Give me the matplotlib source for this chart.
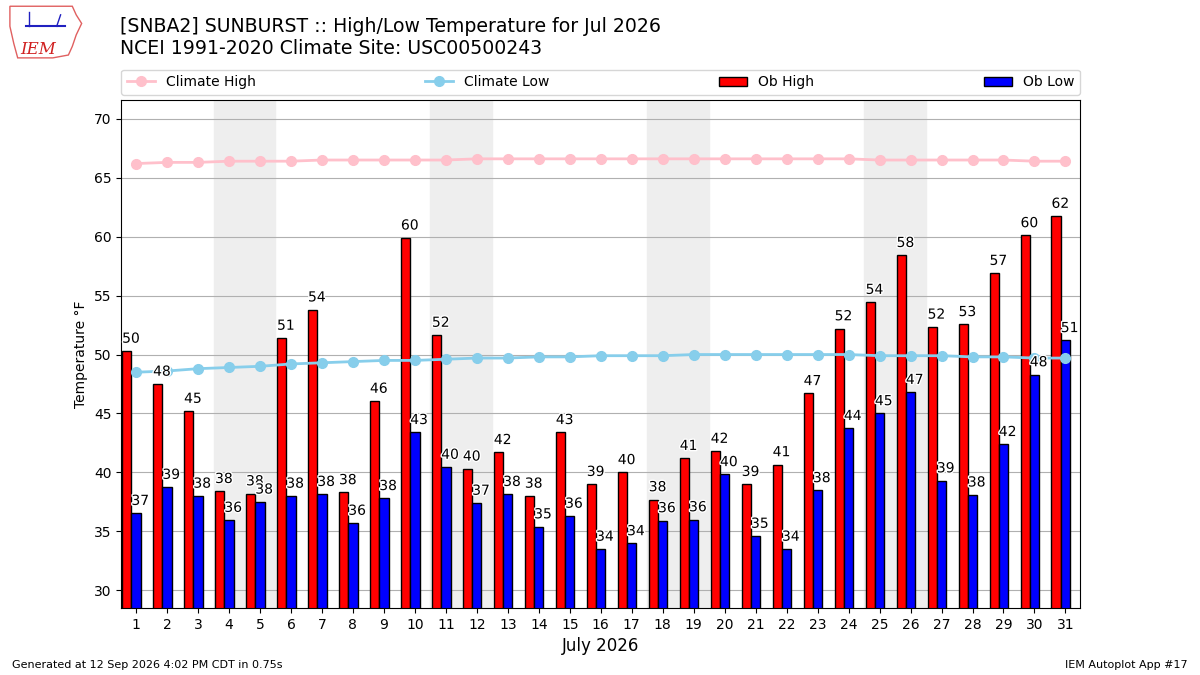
import numpy as np
import matplotlib
matplotlib.use("Agg")
import matplotlib.pyplot as plt
import matplotlib.patheffects as pe
from matplotlib.patches import Polygon

days = np.arange(1, 32)
ob_high = [50.3, 47.5, 45.2, 38.4, 38.2, 51.4, 53.8, 38.3, 46.05, 59.9,
           51.65, 40.3, 41.7, 38.0, 43.4, 39.0, 40.0, 37.7, 41.2, 41.8,
           39.0, 40.67, 46.7, 52.2, 54.44, 58.42, 52.34, 52.56, 56.9, 60.1,
           61.74]
ob_low = [36.54, 38.75, 38.0, 35.95, 37.5, 38.0, 38.15, 35.7, 37.8, 43.4,
          40.45, 37.4, 38.15, 35.4, 36.3, 33.5, 33.97, 35.92, 36.0, 39.83,
          34.6, 33.5, 38.47, 43.74, 45.0, 46.8, 39.3, 38.1, 42.38, 48.3,
          51.2]
clim_high = [66.2, 66.3, 66.3, 66.4, 66.4, 66.4, 66.5, 66.5, 66.5, 66.5,
             66.5, 66.6, 66.6, 66.6, 66.6, 66.6, 66.6, 66.6, 66.6, 66.6,
             66.6, 66.6, 66.6, 66.6, 66.5, 66.5, 66.5, 66.5, 66.5, 66.4,
             66.4]
clim_low = [48.5, 48.6, 48.8, 48.9, 49.0, 49.2, 49.3, 49.4, 49.5, 49.5,
            49.6, 49.7, 49.7, 49.8, 49.8, 49.9, 49.9, 49.9, 50.0, 50.0,
            50.0, 50.0, 50.0, 50.0, 49.9, 49.9, 49.9, 49.8, 49.8, 49.7,
            49.7]
weekends = [4, 11, 18, 25]

fig = plt.figure(figsize=(12, 6.75), dpi=100)
ax = fig.add_axes([0.101, 0.0993, 0.799, 0.7527])

for d in weekends:
    ax.axvspan(d - 0.5, d + 1.5, color="#eeeeee", zorder=0)

w = 0.3
ax.plot(days, clim_high, "-o", color="pink", lw=2, ms=7,
        label="Climate High", zorder=3)
ax.plot(days, clim_low, "-o", color="skyblue", lw=2, ms=7,
        label="Climate Low", zorder=3)
ax.bar(days - w, ob_high, width=w, color="red", edgecolor="k",
       label="Ob High", zorder=2)
ax.bar(days, ob_low, width=w, color="blue", edgecolor="k",
       label="Ob Low", zorder=2)

stroke = [pe.withStroke(linewidth=2, foreground="white")]
for d, hi, lo in zip(days, ob_high, ob_low):
    ax.text(d - 1.5 * w, hi + 0.45, "%.0f" % hi, ha="left", va="bottom",
            fontsize=10, zorder=4, path_effects=stroke)
    ax.text(d - 0.5 * w, lo + 0.45, "%.0f" % lo, ha="left", va="bottom",
            fontsize=10, zorder=4, path_effects=stroke)

ax.set_xlim(0.52, 31.47)
ax.set_ylim(28.5, 71.6)
ax.set_xticks(days)
ax.set_yticks(np.arange(30, 71, 5))
ax.tick_params(labelsize=10)
ax.grid(axis="y", color="#b0b0b0", zorder=1)
ax.set_axisbelow(True)
ax.set_xlabel("July 2026", fontsize=12)
ax.set_ylabel("Temperature °F", fontsize=10)

ax.legend(ncol=4, loc="lower left", bbox_to_anchor=(0, 1.01, 1, 0.05),
          mode="expand", fontsize=10, borderaxespad=0)

fig.text(0.1, 0.975, "[SNBA2] SUNBURST :: High/Low Temperature for Jul 2026\n"
         "NCEI 1991-2020 Climate Site: USC00500243",
         fontsize=13.6, va="top", ha="left")
fig.text(0.01, 0.008, "Generated at 12 Sep 2026 4:02 PM CDT in 0.75s",
         fontsize=8, ha="left", va="bottom")
fig.text(0.99, 0.008, "IEM Autoplot App #17", fontsize=8,
         ha="right", va="bottom")

# rough IEM logo
lax = fig.add_axes([0.005, 0.91, 0.065, 0.085])
lax.set_xlim(0, 1)
lax.set_ylim(0, 1)
lax.axis("off")
shape = [(0.05, 0.95), (0.85, 0.95), (0.9, 0.8), (0.97, 0.65), (0.9, 0.45),
         (0.85, 0.25), (0.8, 0.1), (0.6, 0.05), (0.15, 0.05), (0.1, 0.3),
         (0.05, 0.6)]
lax.add_patch(Polygon(shape, closed=True, fill=False, ec="#e06060", lw=1))
lax.plot([0.25, 0.75], [0.6, 0.6], color="#2020c0", lw=1.5)
lax.plot([0.3, 0.3], [0.6, 0.85], color="#2020c0", lw=1)
lax.plot([0.65, 0.7], [0.6, 0.8], color="#2020c0", lw=1)
lax.text(0.18, 0.12, "IEM", color="#d02020", fontsize=12,
         family="DejaVu Serif", style="italic")

fig.savefig("out.png", dpi=100)
